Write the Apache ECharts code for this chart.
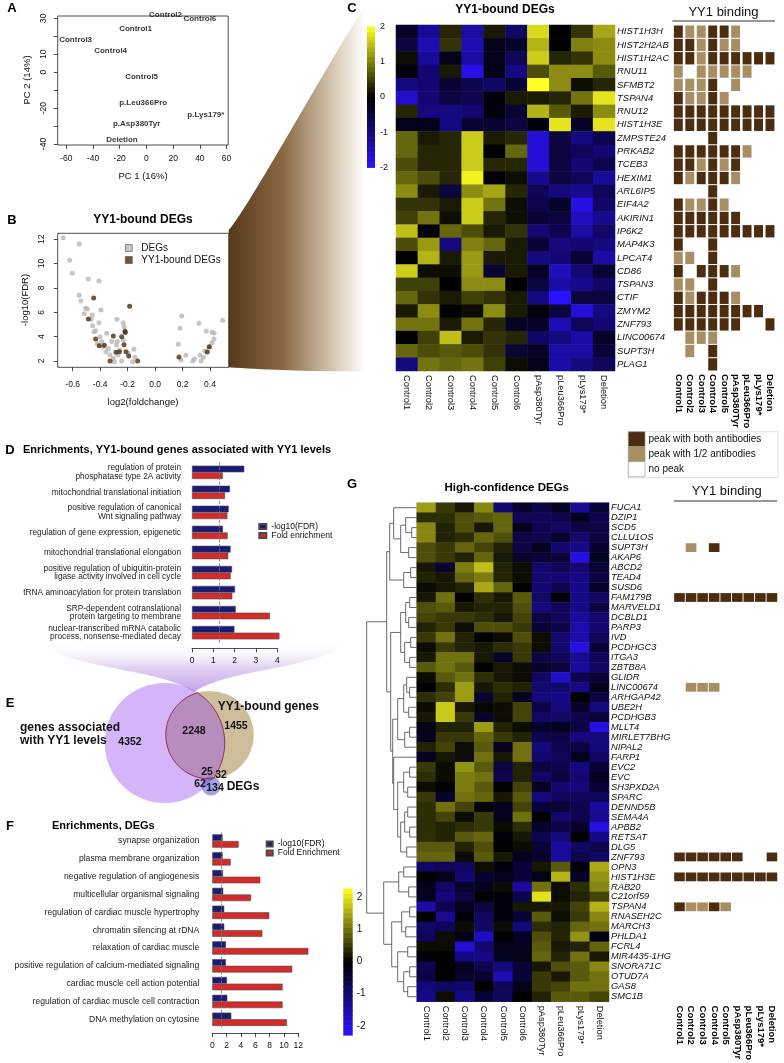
<!DOCTYPE html>
<html><head><meta charset="utf-8">
<script src="https://cdn.jsdelivr.net/npm/echarts@6/dist/echarts.min.js"></script>
<style>html,body{margin:0;padding:0;background:#fff}#c{width:784px;height:1063px}</style>
</head><body><div id="c"></div>
<script>
// ---------------- DATA ----------------
const pcaLabels = ['Control2','Control6','Control1','Control3','Control4','Control5','p.Leu366Pro','p.Lys179*','p.Asp380Tyr','Deletion'];
const pcaPC1 = [14.3, 40, -8.1, -53, -26.8, -3.6, -2.4, 44.5, -7.3, -18.3];
const pcaPC2 = [31.8, 29.6, 23.9, 18.3, 12, -2.5, -17, -23.7, -28.5, -37.8];
const pcaXTicks = [-60,-40,-20,0,20,40,60];
const pcaYTicks = [-40,-30,-20,-10,0,10,20,30];
const pcaYLabels = [-40,-20,0,10,30];

const degX = [-0.669,-0.552,-0.622,-0.603,-0.486,-0.409,-0.552,-0.540,-0.505,-0.494,-0.394,-0.516,-0.457,-0.277,-0.232,-0.465,-0.409,-0.455,-0.433,-0.445,-0.353,-0.401,-0.389,-0.377,-0.358,-0.328,-0.304,-0.297,-0.280,-0.275,-0.226,-0.256,-0.243,-0.195,-0.163,-0.154,-0.146,-0.232,-0.340,-0.420,-0.315,-0.270,
  0.194,0.181,0.169,0.189,0.223,0.274,0.286,0.320,0.327,0.336,0.351,0.363,0.373,0.393,0.414,0.429,0.414,0.429,0.492];
const degY = [12.13,11.61,10.27,9.20,8.74,8.57,7.40,6.93,6.33,6.27,6.19,5.89,5.78,5.43,5.15,5.43,5.15,4.90,4.49,4.41,4.27,4.00,3.59,3.17,2.76,2.49,2.22,1.94,3.31,3.59,4.82,2.90,2.00,2.63,1.94,2.96,2.30,3.73,3.00,3.40,3.60,2.50,
  5.70,4.68,3.37,2.08,2.47,2.00,2.16,5.10,2.49,2.00,2.30,2.82,4.47,3.12,3.50,3.81,4.36,4.30,5.34];
const boundX = [-0.447,-0.486,-0.185,-0.433,-0.406,-0.370,-0.304,-0.328,-0.285,-0.260,-0.243,-0.217,-0.219,-0.226,-0.212,-0.192,-0.127,0.174,0.380,0.395];
const boundY = [7.18,5.45,6.49,3.81,3.26,3.29,4.05,2.00,2.72,2.76,4.00,4.33,4.45,3.34,2.76,2.41,2.00,2.33,2.74,3.17];
const volcXTicks = [-0.6,-0.4,-0.2,0,0.2,0.4];
const volcYTicks = [2,4,6,8,10,12];

const samples = ['Control1','Control2','Control3','Control4','Control5','Control6','pAsp380Tyr','pLeu366Pro','pLys179*','Deletion'];
const bindSamples = ['Control1','Control2','Control3','Control4','Control5','pAsp380Tyr','pLeu366Pro','pLys179*','Deletion'];

const cGenes = ['HIST1H3H','HIST2H2AB','HIST1H2AC','RNU11','SFMBT2','TSPAN4','RNU12','HIST1H3E','ZMPSTE24','PRKAB2','TCEB3','HEXIM1','ARL6IP5','EIF4A2','AKIRIN1','IP6K2','MAP4K3','LPCAT4','CD86','TSPAN3','CTIF','ZMYM2','ZNF793','LINC00674','SUPT3H','PLAG1'];
const cExpr = [
 [-0.3,-1.2,0.3,-1.3,0.2,-0.8,1.7,0,0.4,1.3],
 [-0.5,-1.4,0.4,-1.4,-0.2,-0.3,1.4,0,1.0,1.1],
 [0.1,-1.2,-0.2,-1.3,-0.2,-0.7,1.6,0.3,0.4,1.1],
 [-0.1,-0.9,0.2,-1.8,-0.2,-1.0,0.6,1.1,1.1,0.7],
 [-1.0,-0.9,-0.4,-0.6,-0.8,-0.4,2.0,1.1,0.1,0.3],
 [-1.6,-0.9,-0.5,-0.6,-0.1,0.2,0.2,0.3,0.9,1.8],
 [0.3,-1.0,-1.0,-0.9,-0.1,-0.4,1.4,0.7,0.2,1.1],
 [-0.2,-0.2,-1.0,-0.4,-0.4,-0.5,-0.1,1.8,-0.3,1.8],
 [0.8,0.2,0.3,1.6,0.2,0.3,-1.7,-0.5,-1.0,-0.6],
 [0.8,0.3,0.3,1.6,0,0.8,-1.7,-0.5,-0.7,-0.9],
 [0.6,0.3,0.3,1.6,0.3,0.3,-1.7,-0.5,-0.9,-0.6],
 [0.8,0.6,0.3,1.9,0,0.1,-1.1,-0.5,-0.7,-1.2],
 [1.1,0.2,-0.5,1.1,1.3,0.3,-0.7,-1.0,-1.1,-0.7],
 [0.4,0.4,0.2,1.6,0.9,0.1,-0.6,-0.3,-1.8,-0.8],
 [0.5,0.9,0.1,1.6,0.3,0.1,-0.4,-0.5,-1.5,-1.1],
 [1.5,-0.1,0.8,0.6,0.2,0.4,-0.9,-0.6,-1.3,-0.8],
 [0.6,1.2,-1.0,1.0,0.8,0.2,-0.4,-1.0,-0.9,-1.0],
 [0,1.4,0.2,1.2,0.2,0.2,-1.0,-0.9,-0.4,-1.3],
 [1.6,0.1,0.1,1.2,-0.4,0.2,-0.3,-1.5,-0.9,-0.4],
 [0.5,0.5,0,1.1,1.1,0,-0.5,-1.3,-1.1,-0.8],
 [0.8,0.4,0.2,0.5,0.4,0.2,-1.0,-2.0,-0.5,-0.5],
 [0.2,1.1,0,0.1,1.1,0.2,-0.1,-0.5,-1.7,-1.0],
 [0.9,0.9,0.2,0.9,0.3,-0.3,-0.3,-1.4,-0.7,-0.9],
 [0,0.5,1.5,0.2,0.4,0.3,-0.8,-1.0,-1.3,-0.3],
 [0.8,0.6,0.7,0.6,0.4,-0.4,-0.3,-1.3,-1.3,-0.4],
 [-1.0,0.9,0.8,0.9,0.5,0.1,-0.2,-1.3,-1.0,-0.7]
];
// D = peak with both antibodies, L = peak with 1/2 antibodies, . = no peak
const cBinding = ['DLLDDL...','DDLDLL...','DDLDDDDDD','L.LLLLL..','LLLD.L...','DLLDL....','DDDDDDDDD','DDDDDDDDD','...D.....','DDDDDDL..','DDLDLD...','DLDDDL...','...D.....','DLLDL....','DDDDDD...','DDDDDDDDD','D..D.....','LL.D.....','D.DDDL...','LL.D.....','DLDDDL...','DDDDDDDD.','DDDDDD..D','.LLL.....','.L.D.....','...D.....'];

const dTerms = ['regulation of protein\nphosphatase type 2A activity','mitochondrial translational initiation','positive regulation of canonical\nWnt signaling pathway','regulation of gene expression, epigenetic','mitochondrial translational elongation','positive regulation of ubiquitin-protein\nligase activity involved in cell cycle','tRNA aminoacylation for protein translation','SRP-dependent cotranslational\nprotein targeting to membrane','nuclear-transcribed mRNA catabolic\nprocess, nonsense-mediated decay'];
const dFDR = [2.45,1.78,1.72,1.45,1.81,1.88,2.02,2.05,1.99];
const dFold = [1.44,1.55,1.66,1.67,1.70,1.81,1.89,3.65,4.1];

const vennSetNames = ['genes associated\nwith YY1 levels','YY1-bound genes','DEGs'];
const vennCounts = [4352,2248,1455,25,32,62,134];

const fTerms = ['synapse organization','plasma membrane organization','negative regulation of angiogenesis','multicellular organismal signaling','regulation of cardiac muscle hypertrophy','chromatin silencing at rDNA','relaxation of cardiac muscle','positive regulation of calcium-mediated signaling','cardiac muscle cell action potential','regulation of cardiac muscle cell contraction','DNA methylation on cytosine'];
const fFDR = [1.44,1.44,1.49,1.53,1.67,1.67,1.9,1.9,2.05,2.09,2.65];
const fFold = [3.67,2.56,6.7,5.4,7.95,6.98,13.4,11.16,9.81,9.81,10.42];

const gGenes = ['FUCA1','DZIP1','SCD5','CLLU1OS','SUPT3H','AKAP6','ABCD2','TEAD4','SUSD6','FAM179B','MARVELD1','DCBLD1','PARP3','IVD','PCDHGC3','ITGA3','ZBTB8A','GLIDR','LINC00674','ARHGAP42','UBE2H','PCDHGB3','MLLT4','MIRLET7BHG','NIPAL2','FARP1','EVC2','EVC','SH3PXD2A','SPARC','DENND5B','SEMA4A','APBB2','RETSAT','DLG5','ZNF793','OPN3','HIST1H3E','RAB20','C21orf59','TSPAN4','RNASEH2C','MARCH3','PHLDA1','FCRL4','MIR4435-1HG','SNORA71C','OTUD7A','GAS8','SMC1B'];
const gExpr = [
 [1.4,0.5,0.2,1.2,-1.0,-0.4,-0.6,-0.3,-1.3,-0.5],
 [0.4,0.4,0.7,0.8,0.9,-0.8,-0.8,-0.7,-0.3,-0.7],
 [1.2,0.3,0.7,0.2,0.9,-0.3,-0.7,-0.9,-0.6,-0.6],
 [1.2,0.3,0.4,0.9,0.7,-0.6,-0.7,-0.4,-1.0,-0.6],
 [0.7,0.5,0.9,0.6,0.3,-0.6,-0.3,-1.0,-1.2,-0.4],
 [0.7,0.5,0.3,0.9,0.2,-0.4,-0.5,-0.5,-2.0,-0.3],
 [0.2,-0.4,1.1,1.7,0.3,0.1,-1.0,-0.8,-1.0,-0.5],
 [0.3,0.2,0.9,1.1,0.3,0.1,-1.0,-1.0,-1.2,-0.6],
 [0.1,0.2,0.3,1.5,0.9,0,-1.0,-0.7,-1.2,-0.4],
 [0.2,1.0,0,0.4,0.2,0.8,-0.9,-0.1,-1.2,-0.9],
 [0.7,0.8,0.2,0.3,0.3,0.7,-1.1,-0.8,-1.2,-0.6],
 [0.6,0.5,0.5,0.4,0.2,0.6,-0.6,-0.8,-1.4,-1.0],
 [0.3,0.5,0.1,0.7,0.7,0.5,-0.5,-0.6,-1.5,-1.0],
 [0.5,1.0,0.3,0,0.1,0.7,0.1,-1.0,-1.5,-0.8],
 [0.1,0.5,0.3,0.2,0.4,0.5,0.1,-1.0,-2.0,-0.5],
 [0.2,1.0,1.0,0.2,-0.4,0.5,-0.6,-0.8,-1.3,-0.8],
 [0.8,1.0,0.8,0,0.2,0.1,-0.4,-0.5,-1.4,-0.9],
 [0.1,0.8,1.0,0.4,0.2,0.1,-0.9,-1.8,-0.7,-0.5],
 [0,0.4,1.4,0.2,0.4,0.3,-1.0,-1.0,-1.2,-0.3],
 [0.4,0.6,1.4,-0.4,0.3,-0.3,-1.1,-1.2,0,-0.6],
 [0.1,1.8,0.2,0.05,0.1,0.6,-0.6,-1.1,-0.4,-1.1],
 [0.2,1.8,0.5,-0.4,0.1,0.6,-0.9,-0.9,-0.7,-0.5],
 [-0.2,0.3,0.3,1.4,0.3,0.1,-0.4,-0.3,-0.6,-2.0],
 [-0.3,0.5,0.5,0.9,0.5,0.3,-0.7,-0.6,-1.1,-1.1],
 [0.3,0.6,0.1,0.8,-0.3,1.0,-1.1,-0.7,-0.6,-1.1],
 [-0.3,0.2,0.1,1.0,0.2,1.0,-1.0,-0.8,-0.3,-0.9],
 [0.5,0.1,1.3,0.8,-0.6,0.3,-0.6,-0.7,-1.1,-0.5],
 [0.4,0.1,1.1,1.0,-0.7,0.3,-0.9,-0.6,-1.0,-0.3],
 [0.1,0,1.1,0.8,0,0.6,-0.3,-1.0,-1.1,-0.5],
 [0.5,-0.4,1.0,0.9,0.2,0.8,-1.1,-0.8,-0.8,-0.8],
 [0.4,1.0,0.6,0,-0.3,0.6,-0.5,-0.5,-0.7,-1.4],
 [0.4,0.6,0.1,0.5,-0.3,1.0,0,-1.0,-0.7,-1.3],
 [0.4,0.3,0.4,0.5,0.1,0.4,-0.4,-0.6,-0.4,-2.0],
 [0.4,0.3,0.8,0.9,-0.1,0.2,-0.7,-1.1,0,-1.2],
 [0.8,0.8,0.3,0.7,0,0.1,-0.5,-1.4,-0.9,-0.7],
 [0.9,0.9,0.1,0.8,0.2,-0.3,-0.4,-1.4,-0.7,-0.9],
 [-0.9,-0.8,-0.9,0.1,-0.1,-0.5,0.2,0.8,-0.1,1.5],
 [0,-0.2,-1.0,-0.4,-0.3,-0.5,-0.2,1.6,-0.4,1.3],
 [-0.3,-0.9,-0.4,-0.3,0.1,-1.4,1.0,0.1,0.4,1.2],
 [-0.3,-1.1,-0.6,0,-0.1,-0.7,2.0,0.1,0.3,0.6],
 [-1.5,-0.7,-0.3,-0.6,-0.1,0.2,0.2,0.2,0.6,1.6],
 [0,-1.3,-0.1,-0.9,-0.1,-0.5,0.8,0.1,0.5,1.2],
 [-0.9,-0.8,0.1,-0.9,0.1,-1.1,0.4,0.3,0.9,1.0],
 [-0.8,0.1,-0.2,-1.7,0,-0.3,0.7,0.3,1.3,-0.2],
 [0.1,0.1,-1.9,-1.0,-0.2,-0.3,0.8,0.2,0.3,0.9],
 [-0.1,0,-1.2,-1.2,-0.3,-0.2,0.9,0.3,1.0,0.2],
 [-0.7,0,-0.3,-0.7,-1.1,-0.5,0.2,0.7,0.8,1.2],
 [-0.6,0,-0.4,-0.4,-1.6,-0.5,0.5,0.2,0.8,1.0],
 [-1.1,-0.9,-1.0,0,-0.8,-0.2,0.5,0.6,1.0,1.0],
 [-1.2,0.1,-1.2,-0.5,-0.8,0,0.3,0.8,0.8,0.6]
];
const gBindingGenes = ['SUPT3H','FAM179B','LINC00674','ZNF793','HIST1H3E','TSPAN4'];
const gBindingCodes = ['.L.D.....','DDDDDDDDD','.LLL.....','DDDDDD..D','DDDDDDDDD','DLLDL....'];
// hierarchical clustering of G rows: [merge height, left, right], leaves = row index
const dendroTree = [50,
  [30,
    [27, [23, 0, [16, [11, 1, [5, 2, 3]], [8, 4, 5]]], [13, [6, 6, 7], 8]],
    [26, [16, [11, [7, 9, 10], [8, 11, 12]], [12, [6, 13, 14], [7, 15, 16]]],
         [24, [19, [13, [10, 17, [7, 18, 19]], [8, 20, 21]], [12, [7, 22, 23], 24]],
              [23, 25, [19, [13, [7, 26, 27], [9, 28, 29]], [16, [12, [9, 30, 31], [7, 32, 33]], [10, 34, 35]]]]]]],
  [33, [18, [13, 36, 37], [8, 38, 39]], [25, [15, [7, 40, 41], [11, 42, 43]], [19, [9, 44, 45], [13, [7, 46, 47], [9, 48, 49]]]]]
];
const colorbarTicks = [-2,-1,0,1,2];

// ---------------- STYLE / HELPERS ----------------
const FF = "'Liberation Sans', Arial, Helvetica, sans-serif";
const TXT = '#111';
const PAL = ['#2a12ff','#000000','#ffff22'];
const DARK = '#4d2d0f', LIGHT = '#a78f63';
const BLUE = '#1b1b76', RED = '#d42a2a';
function hex2rgb(h){return [1,3,5].map(i=>parseInt(h.substr(i,2),16));}
const PALRGB = PAL.map(hex2rgb);
function colorAt(t){ t=Math.max(0,Math.min(1,t)); let a,b,u;
  if(t<0.5){a=PALRGB[0];b=PALRGB[1];u=t/0.5;} else {a=PALRGB[1];b=PALRGB[2];u=(t-0.5)/0.5;}
  return 'rgb('+a.map((v,i)=>Math.round(v+(b[i]-v)*u)).join(',')+')'; }
function bez(p0,p1,p2,p3,n){ const out=[]; for(let i=0;i<=n;i++){const t=i/n,u=1-t;
  out.push([u*u*u*p0[0]+3*u*u*t*p1[0]+3*u*t*t*p2[0]+t*t*t*p3[0], u*u*u*p0[1]+3*u*u*t*p1[1]+3*u*t*t*p2[1]+t*t*t*p3[1]]);} return out; }

const grids=[], xAxes=[], yAxes=[], series=[], visualMaps=[], legends=[], gfx=[];
const hid = (gi, extra) => Object.assign({gridIndex:gi, show:false, splitLine:{show:false}}, extra);
const lineSt = {color:'#222', width:0.8};
const noLine = {show:false, onZero:false};

// ---------- A: PCA ----------
grids.push({left:57.7, top:16, width:170.5, height:129, show:true, borderColor:'#222', borderWidth:0.8, backgroundColor:'transparent'});
xAxes.push({gridIndex:0, type:'value', min:-66.4, max:61.2, axisLine:noLine, splitLine:{show:false},
  axisTick:{show:true, length:4, customValues:pcaXTicks, lineStyle:lineSt},
  axisLabel:{customValues:pcaXTicks, fontSize:8.5, color:TXT, margin:9, fontFamily:FF}});
yAxes.push({gridIndex:0, type:'value', min:-40.56, max:31.3, axisLine:noLine, splitLine:{show:false},
  axisTick:{show:true, length:4, customValues:pcaYTicks, lineStyle:lineSt},
  axisLabel:{customValues:pcaYLabels, rotate:90, fontSize:8.5, color:TXT, margin:10, fontFamily:FF}});
series.push({type:'scatter', xAxisIndex:0, yAxisIndex:0, symbolSize:1, clip:false, silent:true,
  itemStyle:{color:'rgba(0,0,0,0)'},
  data: pcaLabels.map((n,i)=>({name:n, value:[pcaPC1[i], pcaPC2[i]]})),
  label:{show:true, position:'inside', formatter:'{b}', fontSize:8, fontWeight:'bold', color:'#000', fontFamily:FF}});

// ---------- B: volcano ----------
grids.push({left:57.7, top:233.3, width:171, height:134, show:true, borderColor:'#222', borderWidth:0.8, backgroundColor:'#fff'});
xAxes.push({gridIndex:1, type:'value', min:-0.709, max:0.536, axisLine:noLine, splitLine:{show:false},
  axisTick:{show:true, length:4, customValues:volcXTicks, lineStyle:lineSt},
  axisLabel:{customValues:volcXTicks, formatter:v=>Number(v).toFixed(1), fontSize:8.5, color:TXT, margin:13, fontFamily:FF}});
yAxes.push({gridIndex:1, type:'value', min:1.48, max:12.49, axisLine:noLine, splitLine:{show:false},
  axisTick:{show:true, length:4, customValues:volcYTicks, lineStyle:lineSt},
  axisLabel:{customValues:volcYTicks, rotate:90, fontSize:8.5, color:TXT, margin:12, fontFamily:FF}});
series.push({type:'scatter', name:'DEGs', xAxisIndex:1, yAxisIndex:1, symbolSize:5, silent:true,
  itemStyle:{color:'#b7b7b7'}, data: degX.map((x,i)=>[x, degY[i]])});
series.push({type:'scatter', name:'YY1-bound DEGs', xAxisIndex:1, yAxisIndex:1, symbolSize:5, silent:true, z:3,
  itemStyle:{color:'#4f2d0c'}, data: boundX.map((x,i)=>[x, boundY[i]])});
legends.push({data:['DEGs','YY1-bound DEGs'], left:125, top:243, orient:'vertical', itemWidth:7, itemHeight:7, itemGap:2,
  padding:0, icon:'rect', selectedMode:false, itemStyle:{borderColor:'#333', borderWidth:0.6},
  textStyle:{fontSize:10, color:TXT, fontFamily:FF, padding:[0,0,0,4]}});

// ---------- C: heatmap ----------
grids.push({left:396, top:25, width:219, height:346});
xAxes.push({gridIndex:2, type:'category', data:samples, axisLine:{show:false}, axisTick:{show:false}, splitLine:{show:false},
  axisLabel:{interval:0, rotate:-90, fontSize:9.3, color:TXT, margin:4, fontFamily:FF}});
yAxes.push({gridIndex:2, type:'category', data:cGenes, inverse:true, position:'right', axisLine:{show:false}, axisTick:{show:false},
  axisLabel:{interval:0, fontSize:9.5, fontStyle:'italic', color:TXT, margin:2, fontFamily:FF}});
const cData=[]; cExpr.forEach((row,r)=>row.forEach((v,c)=>cData.push([c,r,v])));
const idxCHeat = series.length;
series.push({type:'heatmap', xAxisIndex:2, yAxisIndex:2, data:cData, emphasis:{disabled:true}, silent:true});
visualMaps.push({type:'continuous', min:-2, max:2, seriesIndex:idxCHeat, show:false, dimension:2, inRange:{color:PAL}});

// ---------- C: binding ----------
grids.push({left:672.6, top:25, width:103.1, height:346});
xAxes.push({gridIndex:3, type:'category', data:bindSamples, axisLine:{show:false}, axisTick:{show:false},
  axisLabel:{interval:0, rotate:-90, fontSize:9.5, fontWeight:'bold', color:'#000', margin:3, fontFamily:FF}});
yAxes.push(hid(3, {type:'category', data:cGenes, inverse:true}));
const codeVal = ch => ch==='D'?2:(ch==='L'?1:0);
const cBindData=[]; cBinding.forEach((s,r)=>s.split('').forEach((ch,c)=>{const v=codeVal(ch); if(v) cBindData.push([c,r,v]);}));
function bindingRender(wFrac, hGap){ return function(params, api){
  const c = api.coord([api.value(0), api.value(1)]); const s = api.size([1,1]);
  const w = s[0]*wFrac, h = s[1]-hGap;
  return {type:'rect', shape:{x:c[0]-w/2, y:c[1]-h/2, width:w, height:h}, style:{fill: api.value(2)===2?DARK:LIGHT}};
};}
series.push({type:'custom', xAxisIndex:3, yAxisIndex:3, data:cBindData, encode:{x:0,y:1}, silent:true, renderItem:bindingRender(0.78, 1)});

// ---------- C: colorbar ----------
function colorbarRender(min, max, steps){ return function(params, api){
  const cs = params.coordSys; const ch=[];
  for(let i=0;i<steps;i++){ const v0=min+(max-min)*i/steps, v1=min+(max-min)*(i+1)/steps;
    const y0=api.coord([0,v0])[1], y1=api.coord([0,v1])[1];
    ch.push({type:'rect', shape:{x:cs.x, y:Math.min(y0,y1), width:cs.width, height:Math.abs(y1-y0)+0.6}, style:{fill:colorAt(((v0+v1)/2-min)/(max-min))}}); }
  return {type:'group', children:ch}; };}
grids.push({left:367, top:26.5, width:8, height:140.8});
xAxes.push(hid(4, {type:'category', data:['cb']}));
yAxes.push({gridIndex:4, type:'value', min:-2, max:2, position:'right', axisLine:noLine, axisTick:{show:false}, splitLine:{show:false},
  axisLabel:{customValues:colorbarTicks, fontSize:9, color:TXT, margin:5, fontFamily:FF}});
series.push({type:'custom', xAxisIndex:4, yAxisIndex:4, data:[[0,0]], encode:{x:0,y:1}, silent:true, renderItem:colorbarRender(-2,2,28)});

// ---------- D: enrichment bars ----------
grids.push({left:192, top:462.3, width:85.3, height:180.4});
xAxes.push({gridIndex:5, type:'value', min:0, max:4, interval:1, offset:5.6, splitLine:{show:false},
  axisLine:{show:true, onZero:false, lineStyle:lineSt}, axisTick:{show:true, length:4, lineStyle:lineSt},
  axisLabel:{fontSize:8.5, color:TXT, margin:8, fontFamily:FF}});
yAxes.push({gridIndex:5, type:'category', data:dTerms, inverse:true, axisLine:{show:false}, axisTick:{show:false},
  axisLabel:{interval:0, fontSize:8.3, lineHeight:8.6, color:'#222', margin:11, fontFamily:FF}});
const barBorder = {borderColor:'#4a4a4a', borderWidth:0.6};
const dashLine = {silent:true, symbol:'none', label:{show:false}, lineStyle:{type:'dashed', color:'#777', width:0.8}, data:[{xAxis:1.3}]};
series.push({type:'bar', name:'-log10(FDR)', xAxisIndex:5, yAxisIndex:5, data:dFDR, barWidth:6.7, barGap:'0%', clip:false, silent:true,
  itemStyle:Object.assign({color:BLUE}, barBorder), markLine:dashLine});
series.push({type:'bar', name:'Fold enrichment', xAxisIndex:5, yAxisIndex:5, data:dFold, barWidth:6.7, barGap:'0%', clip:false, silent:true,
  itemStyle:Object.assign({color:RED}, barBorder)});
legends.push({data:['-log10(FDR)','Fold enrichment'], left:258.3, top:522, orient:'vertical', itemWidth:7, itemHeight:5, itemGap:0,
  padding:0, icon:'rect', selectedMode:false, textStyle:{fontSize:8.5, color:TXT, fontFamily:FF}});

// ---------- E: Venn ----------
const vennLayout = {
  circles:[ {center:[209.8,55], r:44, fill:'#cdbd9b'},
            {center:[164.7,63], r:60, fill:'rgba(150,70,240,0.40)'},
            {center:[211,106], r:9.5, fill:'rgba(70,70,200,0.5)'} ],
  countPos:[[130,62],[194,51],[236,46],[207,92],[221,95],[200,104],[215,108]],
  namePos:[[20,54.5,'left'],[268.3,27,'center'],[243,107,'center']]
};
grids.push({left:0, top:680, width:370, height:150});
xAxes.push(hid(6, {type:'value', min:0, max:370}));
yAxes.push(hid(6, {type:'value', min:0, max:150, inverse:true}));
function arcInside(A, B){ const dx=B.p[0]-A.p[0], dy=B.p[1]-A.p[1], d=Math.hypot(dx,dy);
  const a=(A.r*A.r-B.r*B.r+d*d)/(2*d); const al=Math.acos(Math.max(-1,Math.min(1,a/A.r))); const ph=Math.atan2(dy,dx);
  const pts=[]; for(let i=0;i<=60;i++){const t=ph-al+2*al*i/60; pts.push([A.p[0]+A.r*Math.cos(t), A.p[1]+A.r*Math.sin(t)]);} return pts; }
function vennRender(params, api){
  const ch=[];
  const circ = vennLayout.circles.map(c=>({p:api.coord(c.center), r:Math.abs(api.size([c.r,0])[0]), fill:c.fill}));
  circ.forEach(c=>ch.push({type:'circle', shape:{cx:c.p[0], cy:c.p[1], r:c.r}, style:{fill:c.fill}}));
  [arcInside(circ[0],circ[1]), arcInside(circ[1],circ[0])].forEach(pts=>ch.push({type:'polyline', shape:{points:pts}, style:{stroke:'#8b1f33', lineWidth:0.9, fill:null}}));
  vennCounts.forEach((n,i)=>{ const p=api.coord(vennLayout.countPos[i]);
    ch.push({type:'text', x:p[0], y:p[1], style:{text:String(n), fill:'#111', fontSize:10.5, fontWeight:'bold', fontFamily:FF, align:'center', verticalAlign:'middle'}}); });
  vennSetNames.forEach((n,i)=>{ const L=vennLayout.namePos[i]; const p=api.coord([L[0],L[1]]);
    ch.push({type:'text', x:p[0], y:p[1], style:{text:n, fill:'#111', fontSize:12, fontWeight:'bold', fontFamily:FF, align:L[2], verticalAlign:'middle', lineHeight:13}}); });
  return {type:'group', children:ch};
}
series.push({type:'custom', xAxisIndex:6, yAxisIndex:6, data:[[0,0]], encode:{x:0,y:1}, silent:true, renderItem:vennRender});

// ---------- F: enrichment bars ----------
grids.push({left:212.3, top:832.1, width:86, height:196.1});
xAxes.push({gridIndex:7, type:'value', min:0, max:12, interval:2, offset:5, splitLine:{show:false},
  axisLine:{show:true, onZero:false, lineStyle:lineSt}, axisTick:{show:true, length:4, lineStyle:lineSt},
  axisLabel:{fontSize:8.5, color:TXT, margin:8, fontFamily:FF}});
yAxes.push({gridIndex:7, type:'category', data:fTerms, inverse:true, axisLine:{show:false}, axisTick:{show:false},
  axisLabel:{interval:0, fontSize:8.6, color:'#222', margin:13, fontFamily:FF}});
series.push({type:'bar', name:'-log10(FDR) ', xAxisIndex:7, yAxisIndex:7, data:fFDR, barWidth:6.67, barGap:'0%', clip:false, silent:true,
  itemStyle:Object.assign({color:BLUE}, barBorder), markLine:dashLine});
series.push({type:'bar', name:'Fold Enrichment', xAxisIndex:7, yAxisIndex:7, data:fFold, barWidth:6.67, barGap:'0%', clip:false, silent:true,
  itemStyle:Object.assign({color:RED}, barBorder)});
legends.push({data:['-log10(FDR) ','Fold Enrichment'], left:265.7, top:839.5, orient:'vertical', itemWidth:6, itemHeight:5, itemGap:0,
  padding:0, icon:'rect', selectedMode:false, textStyle:{fontSize:8.5, color:TXT, fontFamily:FF}});

// ---------- G: heatmap ----------
grids.push({left:416.7, top:502.7, width:192.3, height:499});
xAxes.push({gridIndex:8, type:'category', data:samples, axisLine:{show:false}, axisTick:{show:false},
  axisLabel:{interval:0, rotate:-90, fontSize:9.3, color:TXT, margin:4, fontFamily:FF}});
yAxes.push({gridIndex:8, type:'category', data:gGenes, inverse:true, position:'right', axisLine:{show:false}, axisTick:{show:false},
  axisLabel:{interval:0, fontSize:9.3, fontStyle:'italic', color:TXT, margin:2, fontFamily:FF}});
const gData=[]; gExpr.forEach((row,r)=>row.forEach((v,c)=>gData.push([c,r,v])));
const idxGHeat = series.length;
series.push({type:'heatmap', xAxisIndex:8, yAxisIndex:8, data:gData, emphasis:{disabled:true}, silent:true});
visualMaps.push({type:'continuous', min:-2.28, max:2.27, seriesIndex:idxGHeat, show:false, dimension:2, inRange:{color:PAL}});

// ---------- G: binding ----------
grids.push({left:673.7, top:502.7, width:104, height:499});
xAxes.push({gridIndex:9, type:'category', data:bindSamples, axisLine:{show:false}, axisTick:{show:false},
  axisLabel:{interval:0, rotate:-90, fontSize:9.5, fontWeight:'bold', color:'#000', margin:4, fontFamily:FF}});
yAxes.push(hid(9, {type:'category', data:gGenes, inverse:true}));
const gBindData=[]; gBindingGenes.forEach((g,k)=>{ const r=gGenes.indexOf(g); gBindingCodes[k].split('').forEach((ch,c)=>{const v=codeVal(ch); if(v) gBindData.push([c,r,v]);}); });
series.push({type:'custom', xAxisIndex:9, yAxisIndex:9, data:gBindData, encode:{x:0,y:1}, silent:true, renderItem:bindingRender(0.92, 1.2)});

// ---------- G: colorbar ----------
grids.push({left:343.3, top:888.3, width:9.4, height:146.7});
xAxes.push(hid(10, {type:'category', data:['cb']}));
yAxes.push({gridIndex:10, type:'value', min:-2.28, max:2.27, position:'right', axisLine:noLine, axisTick:{show:false}, splitLine:{show:false},
  axisLabel:{customValues:colorbarTicks, fontSize:10, color:TXT, margin:4, fontFamily:FF}});
series.push({type:'custom', xAxisIndex:10, yAxisIndex:10, data:[[0,0]], encode:{x:0,y:1}, silent:true, renderItem:colorbarRender(-2.28,2.27,30)});

// ---------- G: dendrogram ----------
grids.push({left:366.7, top:502.7, width:50, height:499});
xAxes.push(hid(11, {type:'value', min:0, max:50, inverse:true}));
yAxes.push(hid(11, {type:'category', data:gGenes, inverse:true}));
function dendroRender(params, api){
  const y0=api.coord([0,0])[1], y1=api.coord([0,1])[1];
  const Y=i=>y0+(y1-y0)*i, X=h=>api.coord([h,0])[0];
  const segs=[];
  (function walk(node){ if(typeof node==='number') return {pos:node,h:0};
    const l=walk(node[1]), r=walk(node[2]), h=node[0];
    segs.push([[X(l.h),Y(l.pos)],[X(h),Y(l.pos)],[X(h),Y(r.pos)],[X(r.h),Y(r.pos)]]);
    return {pos:(l.pos+r.pos)/2, h}; })(dendroTree);
  return {type:'group', children:segs.map(p=>({type:'polyline', shape:{points:p}, style:{stroke:'#5a5a5a', lineWidth:0.9, fill:null}}))};
}
series.push({type:'custom', xAxisIndex:11, yAxisIndex:11, data:[[0,0]], encode:{x:0,y:1}, silent:true, renderItem:dendroRender});

// ---------------- DECORATION / TEXT ----------------
const LG = echarts.graphic.LinearGradient;
const brownPts = bez([228.7,230],[250,205],[318,80],[366,4],40).concat(bez([366,371],[320,372],[270,370],[228.7,367.3],20));
gfx.push({type:'polygon', z:-1, shape:{points:brownPts},
  style:{fill:new LG(0,0,1,0,[{offset:0,color:'#573819'},{offset:0.4,color:'#8a6a45'},{offset:0.78,color:'#d9ccb8'},{offset:1,color:'#ffffff'}])}});
const cupPts = bez([40,642],[70,670],[160,668],[194,692],30).concat(bez([194,692],[228,668],[318,670],[348,642],30));
gfx.push({type:'polygon', z:-1, shape:{points:cupPts},
  style:{fill:new LG(0,0,0,1,[{offset:0,color:'rgba(255,255,255,0)'},{offset:0.5,color:'#e3d3f3'},{offset:1,color:'#c4a3e8'}])}});
const T = (text, x, y, o) => gfx.push({type:'text', x, y, rotation:(o&&o.rot)||0, style:Object.assign({text, fill:'#000', fontFamily:FF, fontSize:12, fontWeight:'bold', align:'center', verticalAlign:'middle'}, (o&&o.st)||{})});
[['A',12,8],['B',12,220],['C',352,8],['D',10,450],['E',10,703],['F',10,826],['G',352,484]].forEach(a=>T(a[0],a[1],a[2],{st:{fontSize:13}}));
T('YY1-bound DEGs', 143, 220, {st:{fontSize:12}});
T('YY1-bound DEGs', 505, 10, {st:{fontSize:12}});
T('Enrichments, YY1-bound genes associated with YY1 levels', 23, 450, {st:{fontSize:11, align:'left'}});
T('Enrichments, DEGs', 52, 826, {st:{fontSize:11, align:'left'}});
T('High-confidence DEGs', 506.7, 488.3, {st:{fontSize:11.5}});
T('PC 1 (16%)', 143, 176, {st:{fontSize:9.5, fontWeight:'normal', fill:TXT}});
T('PC 2 (14%)', 27, 80, {rot:Math.PI/2, st:{fontSize:9.5, fontWeight:'normal', fill:TXT}});
T('log2(foldchange)', 143, 402, {st:{fontSize:9.5, fontWeight:'normal', fill:TXT}});
T('-log10(FDR)', 25, 300, {rot:Math.PI/2, st:{fontSize:9.5, fontWeight:'normal', fill:TXT}});
T('YY1 binding', 723.5, 12.3, {st:{fontSize:13, fontWeight:'normal', fill:TXT}});
gfx.push({type:'line', shape:{x1:672.3, y1:21, x2:775, y2:21}, style:{stroke:'#333', lineWidth:1}});
T('YY1 binding', 726.7, 491.7, {st:{fontSize:13, fontWeight:'normal', fill:TXT}});
gfx.push({type:'line', shape:{x1:674, y1:501, x2:777, y2:501}, style:{stroke:'#333', lineWidth:1}});
gfx.push({type:'rect', shape:{x:628.3, y:431.7, width:149.7, height:46}, style:{fill:'none', stroke:'#d8d8d8', lineWidth:0.8}});
[[DARK,'peak with both antibodies'],[LIGHT,'peak with 1/2 antibodies'],['#ffffff','no peak']].forEach((it,i)=>{
  gfx.push({type:'rect', shape:{x:628.3, y:431.7+i*15, width:16.7, height:15}, style:{fill:it[0], stroke:'#999', lineWidth:0.6}});
  T(it[1], 648.5, 439.2+i*15, {st:{fontSize:10, fontWeight:'normal', fill:TXT, align:'left'}});
});

const chart = echarts.init(document.getElementById('c'), null, {renderer:'canvas'});
chart.setOption({animation:false, backgroundColor:'#fff', textStyle:{fontFamily:FF},
  grid:grids, xAxis:xAxes, yAxis:yAxes, series, visualMap:visualMaps, legend:legends, graphic:{elements:gfx}});
</script></body></html>
